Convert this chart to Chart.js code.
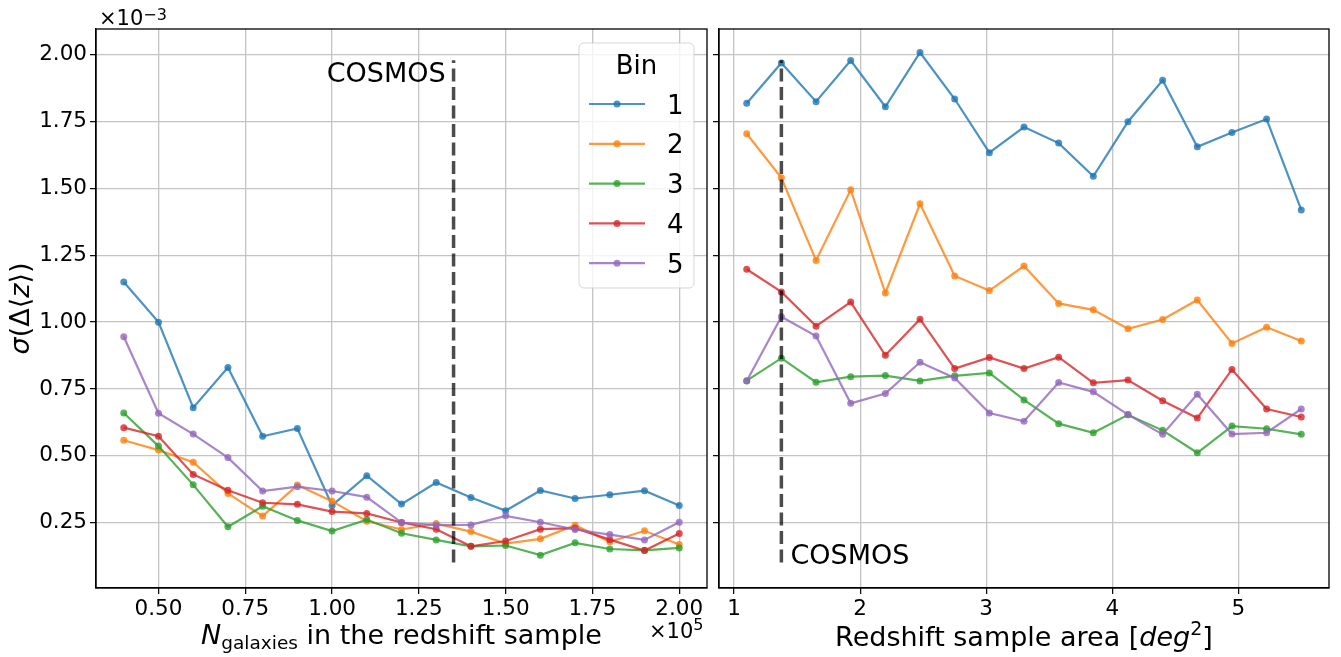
<!DOCTYPE html>
<html>
<head>
<meta charset="utf-8">
<script src="https://cdn.jsdelivr.net/npm/chart.js@4.4.1/dist/chart.umd.min.js"></script>
<style>
  body { margin: 0; background: #fff; }
  #wrap { position: relative; width: 1341px; height: 657px; }
  canvas { position: absolute; top: 0; }
</style>
</head>
<body>
<div id="wrap">
  <canvas id="left" width="712" height="657" style="left:0"></canvas>
  <canvas id="right" width="630" height="657" style="left:711px"></canvas>
</div>
<script>
const FONT = "'DejaVu Sans', sans-serif";

// x values: number of galaxies (x1e5) and sample area (deg^2)
const nGalaxies = [0.4, 0.5, 0.6, 0.7, 0.8, 0.9, 1.0, 1.1, 1.2, 1.3, 1.4, 1.5, 1.6, 1.7, 1.8, 1.9, 2.0];
const sampleArea = [1.1, 1.375, 1.65, 1.925, 2.2, 2.475, 2.75, 3.025, 3.3, 3.575, 3.85, 4.125, 4.4, 4.675, 4.95, 5.225, 5.5];

const binNames = ["1", "2", "3", "4", "5"];
const binColors = [
  "rgba(31,119,180,0.8)",
  "rgba(255,127,14,0.8)",
  "rgba(44,160,44,0.8)",
  "rgba(214,39,40,0.8)",
  "rgba(148,103,189,0.8)"
];

// sigma(Delta<z>) in units of 1e-3, versus N galaxies
const sigmaN1 = [1.15, 1.00, 0.68, 0.83, 0.573, 0.602, 0.314, 0.425, 0.319, 0.40, 0.344, 0.294, 0.37, 0.34, 0.354, 0.369, 0.314];
const sigmaN2 = [0.558, 0.521, 0.476, 0.359, 0.274, 0.39, 0.33, 0.255, 0.224, 0.246, 0.216, 0.171, 0.189, 0.24, 0.178, 0.219, 0.168];
const sigmaN3 = [0.66, 0.536, 0.391, 0.234, 0.311, 0.258, 0.218, 0.261, 0.21, 0.185, 0.161, 0.164, 0.128, 0.174, 0.151, 0.146, 0.155];
const sigmaN4 = [0.605, 0.573, 0.43, 0.371, 0.324, 0.318, 0.291, 0.284, 0.25, 0.225, 0.161, 0.181, 0.225, 0.229, 0.186, 0.145, 0.209];
const sigmaN5 = [0.945, 0.659, 0.581, 0.493, 0.368, 0.384, 0.368, 0.345, 0.25, 0.24, 0.241, 0.275, 0.251, 0.224, 0.205, 0.185, 0.251];

// sigma(Delta<z>) in units of 1e-3, versus sample area
const sigmaA1 = [1.819, 1.97, 1.825, 1.979, 1.806, 2.009, 1.835, 1.634, 1.73, 1.67, 1.546, 1.75, 1.905, 1.656, 1.71, 1.76, 1.42];
const sigmaA2 = [1.705, 1.54, 1.231, 1.495, 1.109, 1.443, 1.173, 1.118, 1.21, 1.07, 1.046, 0.975, 1.01, 1.083, 0.92, 0.981, 0.929];
const sigmaA3 = [0.781, 0.865, 0.775, 0.796, 0.80, 0.78, 0.799, 0.81, 0.709, 0.62, 0.586, 0.653, 0.595, 0.511, 0.611, 0.601, 0.58];
const sigmaA4 = [1.198, 1.113, 0.985, 1.075, 0.876, 1.011, 0.826, 0.868, 0.826, 0.869, 0.773, 0.783, 0.706, 0.641, 0.823, 0.675, 0.645];
const sigmaA5 = [0.78, 1.02, 0.948, 0.696, 0.733, 0.85, 0.791, 0.66, 0.629, 0.774, 0.739, 0.654, 0.58, 0.73, 0.581, 0.586, 0.675];

// ticks
const yTicks = [0.25, 0.5, 0.75, 1.0, 1.25, 1.5, 1.75, 2.0];
const nTicks = [0.5, 0.75, 1.0, 1.25, 1.5, 1.75, 2.0];
const areaTicks = [1, 2, 3, 4, 5];

// COSMOS reference lines
const cosmosN = 1.35;
const cosmosArea = 1.375;
const cosmosSpan = [0.1, 1.98];

function binDatasets(xs, series) {
  return series.map((ys, i) => ({
    label: binNames[i],
    data: xs.map((x, j) => ({ x: x, y: ys[j] })),
    borderColor: binColors[i],
    backgroundColor: binColors[i],
    borderWidth: 2.2,
    pointRadius: 3.5,
    pointBorderWidth: 0,
    pointBackgroundColor: binColors[i],
    tension: 0,
    order: 5 - i
  }));
}

function cosmosDataset(x) {
  return {
    label: "COSMOS",
    data: [{ x: x, y: cosmosSpan[0] }, { x: x, y: cosmosSpan[1] }],
    borderColor: "rgba(0,0,0,0.7)",
    borderWidth: 3.5,
    borderDash: [13, 5.5],
    pointRadius: 0,
    order: -1
  };
}

function axis(min, max, ticks, fmt, fit) {
  return {
    type: "linear",
    min: min,
    max: max,
    afterBuildTicks: s => { s.ticks = ticks.map(v => ({ value: v })); },
    afterFit: fit,
    ticks: {
      callback: fmt,
      color: "#000",
      font: { family: FONT, size: 21.5 },
      padding: 3,
      maxRotation: 0,
      autoSkip: false
    },
    grid: { color: "#c4c4c4", lineWidth: 1.3, tickLength: 6, tickColor: "#000", tickWidth: 1.2 },
    border: { color: "#000", width: 1.3 }
  };
}

function drawRuns(ctx, runs, x, y, align) {
  let total = 0;
  runs.forEach(r => { ctx.font = r.font; r.w = ctx.measureText(r.text).width; total += r.w; });
  let cx = align === "center" ? x - total / 2 : align === "right" ? x - total : x;
  ctx.textAlign = "left";
  ctx.textBaseline = "alphabetic";
  ctx.fillStyle = "#000";
  runs.forEach(r => { ctx.font = r.font; ctx.fillText(r.text, cx, y + (r.dy || 0)); cx += r.w; });
}

function frame(ctx, a) {
  ctx.strokeStyle = "#000";
  ctx.lineWidth = 1.3;
  ctx.strokeRect(a.left, a.top, a.right - a.left, a.bottom - a.top);
}

const f27 = "27px " + FONT, i27 = "italic 27px " + FONT;

const leftText = {
  id: "leftText",
  afterDraw(chart) {
    const { ctx, chartArea: a, scales } = chart;
    ctx.save();
    frame(ctx, a);
    drawRuns(ctx, [{ text: "COSMOS", font: f27 }], scales.x.getPixelForValue(cosmosN) - 8, a.top + 53, "right");
    // offset texts
    drawRuns(ctx, [{ text: "×10", font: "21px " + FONT }, { text: "−3", font: "16px " + FONT, dy: -5 }], a.left + 3, a.top - 4, "left");
    drawRuns(ctx, [{ text: "×10", font: "21px " + FONT }, { text: "5", font: "16px " + FONT, dy: -8 }], a.right - 58, a.bottom + 50, "left");
    // x title
    drawRuns(ctx, [
      { text: "N", font: i27 },
      { text: "galaxies", font: "18.5px " + FONT, dy: 5 },
      { text: " in the redshift sample", font: f27 }
    ], (a.left + a.right) / 2, a.bottom + 56, "center");
    // y title
    ctx.save();
    ctx.translate(28.5, (a.top + a.bottom) / 2);
    ctx.rotate(-Math.PI / 2);
    drawRuns(ctx, [
      { text: "σ", font: i27 },
      { text: "(Δ⟨", font: f27 },
      { text: "z", font: i27 },
      { text: "⟩)", font: f27 }
    ], 0, 0, "center");
    ctx.restore();
    // legend
    const lx = a.right - 128, ly = a.top + 14, lw = 115, lh = 245;
    ctx.beginPath();
    ctx.roundRect(lx, ly, lw, lh, 5);
    ctx.fillStyle = "rgba(255,255,255,0.8)";
    ctx.fill();
    ctx.strokeStyle = "rgba(204,204,204,0.8)";
    ctx.lineWidth = 1;
    ctx.stroke();
    drawRuns(ctx, [{ text: "Bin", font: "26px " + FONT }], lx + lw / 2, ly + 31, "center");
    binNames.forEach((name, i) => {
      const ry = ly + 61 + i * 39.8;
      ctx.strokeStyle = binColors[i];
      ctx.lineWidth = 2.2;
      ctx.beginPath();
      ctx.moveTo(lx + 10, ry);
      ctx.lineTo(lx + 66, ry);
      ctx.stroke();
      ctx.fillStyle = binColors[i];
      ctx.beginPath();
      ctx.arc(lx + 38, ry, 3.5, 0, Math.PI * 2);
      ctx.fill();
      drawRuns(ctx, [{ text: name, font: "26px " + FONT }], lx + 88, ry + 9.5, "left");
    });
    ctx.restore();
  }
};

const rightText = {
  id: "rightText",
  afterDraw(chart) {
    const { ctx, chartArea: a, scales } = chart;
    ctx.save();
    frame(ctx, a);
    drawRuns(ctx, [{ text: "COSMOS", font: f27 }], scales.x.getPixelForValue(cosmosArea) + 9, scales.y.getPixelForValue(cosmosSpan[0]) + 1, "left");
    drawRuns(ctx, [
      { text: "Redshift sample area [", font: f27 },
      { text: "deg", font: i27 },
      { text: "2", font: "19px " + FONT, dy: -11 },
      { text: "]", font: f27 }
    ], (a.left + a.right) / 2, a.bottom + 58, "center");
    ctx.restore();
  }
};

const common = {
  responsive: false,
  animation: false,
  devicePixelRatio: 1,
  plugins: { legend: { display: false }, tooltip: { enabled: false } }
};

new Chart(document.getElementById("left").getContext("2d"), {
  type: "line",
  data: { datasets: binDatasets(nGalaxies, [sigmaN1, sigmaN2, sigmaN3, sigmaN4, sigmaN5]).concat([cosmosDataset(cosmosN)]) },
  options: Object.assign({}, common, {
    layout: { padding: { top: 29, right: 5, left: 0, bottom: 0 } },
    scales: {
      x: axis(0.32, 2.08, nTicks, v => v.toFixed(2), s => { s.height = 69; }),
      y: axis(0.005, 2.097, yTicks, v => v.toFixed(2), s => { s.width = 96; })
    }
  }),
  plugins: [leftText]
});

new Chart(document.getElementById("right").getContext("2d"), {
  type: "line",
  data: { datasets: binDatasets(sampleArea, [sigmaA1, sigmaA2, sigmaA3, sigmaA4, sigmaA5]).concat([cosmosDataset(cosmosArea)]) },
  options: Object.assign({}, common, {
    layout: { padding: { top: 29, right: 12, left: 0, bottom: 0 } },
    scales: {
      x: axis(0.88, 5.72, areaTicks, v => String(v), s => { s.height = 69; }),
      y: axis(0.005, 2.097, yTicks, () => "", s => { s.width = 8; })
    }
  }),
  plugins: [rightText]
});
</script>
</body>
</html>
